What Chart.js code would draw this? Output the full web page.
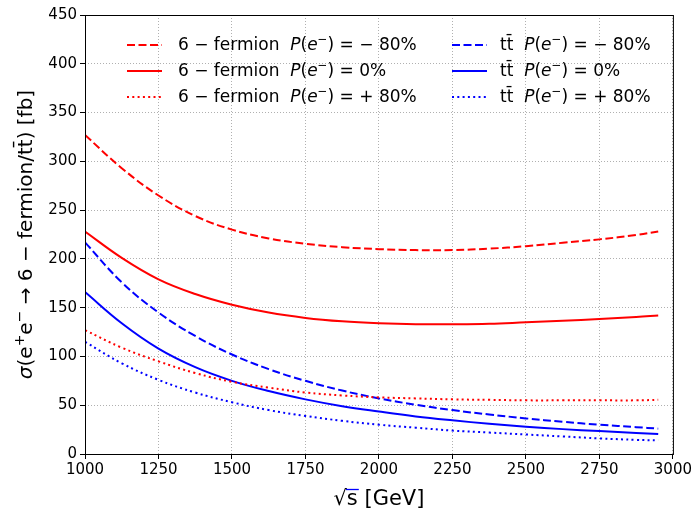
<!DOCTYPE html>
<html>
<head>
<meta charset="utf-8">
<script src="https://cdn.jsdelivr.net/npm/chart.js@4"></script>
<style>
  body { margin: 0; background: #fff; }
  #wrap { width: 694px; height: 508px; }
</style>
</head>
<body>
<div id="wrap"><canvas id="chart"></canvas></div>
<script>
// sqrt(s) in GeV
const energies   = [1000, 1125, 1250, 1375, 1500, 1625, 1750, 1875, 2000, 2125, 2250, 2375, 2500, 2625, 2750, 2875, 2950];
// cross sections in fb
const sixF_m80   = [327, 293, 265, 244, 230, 221, 215.5, 212, 210, 209, 209, 210.5, 213, 216.5, 220, 224.5, 228];
const sixF_0     = [228, 201, 179, 164, 153, 145, 139.5, 136, 134, 133, 133, 133.5, 135, 136.5, 138.5, 140.5, 142];
const sixF_p80   = [127, 109, 95, 83, 74, 68, 63, 60, 58, 57, 56, 55.5, 55, 55, 55, 55, 55.5];
const ttbar_m80  = [217, 176, 145, 121, 102, 87, 75, 65, 57, 50.5, 45, 40.5, 36.5, 33, 30, 27.5, 26];
const ttbar_0    = [166, 134, 108, 89, 75, 64.5, 56, 49, 43.5, 38.5, 34.5, 31, 28, 25.5, 23.5, 21.5, 20.5];
const ttbar_p80  = [115, 93, 76, 63, 53, 45, 39, 34, 30, 27, 24, 22, 20, 18, 16, 14.5, 14];

const procLabels = ["6 − fermion", "tt\u0304"];
const polLabels  = ["− 80%", "0%", "+ 80%"];

const FONT = "'DejaVu Sans', sans-serif";
const dashStyles = [[8, 3.5], [], [2, 3.3]];

function pts(ys) {
    return energies.map((x, i) => ({ x: x, y: ys[i] }));
}

function series(label, ys, color, dash) {
    return {
        label: label,
        data: pts(ys),
        borderColor: color,
        borderWidth: 2,
        borderDash: dash,
        pointRadius: 0,
        tension: 0.4,
        fill: false
    };
}

// text pieces with italic / superscript parts
function segWidth(ctx, segs, size) {
    let w = 0;
    for (const s of segs) {
        const fs = s.sup ? size * 0.7 : size;
        ctx.font = (s.it ? "italic " : "") + fs + "px " + FONT;
        w += ctx.measureText(s.t).width;
    }
    return w;
}
function drawSegs(ctx, segs, x, y, size) {
    for (const s of segs) {
        const fs = s.sup ? size * 0.7 : size;
        ctx.font = (s.it ? "italic " : "") + fs + "px " + FONT;
        ctx.fillText(s.t, x, s.sup ? y - size * 0.38 : y);
        x += ctx.measureText(s.t).width;
    }
    return x;
}

function polSegs(proc, pol) {
    return [
        { t: proc + "  " },
        { t: "P", it: true },
        { t: "(" },
        { t: "e", it: true },
        { t: "−", sup: true },
        { t: ")" },
        { t: " = " + pol }
    ];
}

const decor = {
    id: "decor",
    afterDraw(c) {
        const ctx = c.ctx;
        const a = c.chartArea;
        ctx.save();
        // frame
        ctx.strokeStyle = "#000";
        ctx.lineWidth = 1;
        ctx.setLineDash([]);
        ctx.strokeRect(a.left + 0.5, a.top + 0.5, a.right - a.left, a.bottom - a.top);

        // legend, two columns
        ctx.fillStyle = "#000";
        ctx.textBaseline = "middle";
        const cols = [{ x: 127, tx: 178 }, { x: 452, tx: 500 }];
        const rowY = [45, 71, 97];
        c.data.datasets.forEach((ds, i) => {
            const col = cols[Math.floor(i / 3)];
            const y = rowY[i % 3];
            ctx.strokeStyle = ds.borderColor;
            ctx.lineWidth = 2;
            ctx.setLineDash(ds.borderDash);
            ctx.beginPath();
            ctx.moveTo(col.x, y);
            ctx.lineTo(col.x + 35, y);
            ctx.stroke();
            ctx.setLineDash([]);
            drawSegs(ctx, polSegs(procLabels[Math.floor(i / 3)], polLabels[i % 3]), col.tx, y + 1, 17);
        });

        // x title
        ctx.textBaseline = "alphabetic";
        ctx.font = "21px " + FONT;
        const xt = "√s [GeV]";
        const xw = ctx.measureText(xt).width;
        const x0 = (a.left + a.right) / 2 - xw / 2;
        ctx.fillText(xt, x0, 505);
        const rw = ctx.measureText("√").width;
        const sw = ctx.measureText("s").width;
        ctx.lineWidth = 1.3;
        ctx.beginPath();
        ctx.moveTo(x0 + rw - 1, 489.5);
        ctx.lineTo(x0 + rw + sw + 1, 489.5);
        ctx.stroke();

        // y title
        const ySegs = [
            { t: "σ", it: true },
            { t: "(e" }, { t: "+", sup: true },
            { t: "e" }, { t: "−", sup: true },
            { t: " → 6 − fermion/tt\u0304) [fb]" }
        ];
        ctx.translate(32, (a.top + a.bottom) / 2);
        ctx.rotate(-Math.PI / 2);
        const yw = segWidth(ctx, ySegs, 20);
        drawSegs(ctx, ySegs, -yw / 2, 0, 20);
        ctx.restore();
    }
};

const axisGrid = {
    color: "#b0b0b0",
    lineWidth: 1,
    drawTicks: true,
    tickLength: 5,
    tickColor: "#000",
    tickWidth: 1
};

new Chart(document.getElementById("chart"), {
    type: "line",
    data: {
        datasets: [
            series("6 − fermion P(e⁻) = − 80%", sixF_m80, "#ff0000", dashStyles[0]),
            series("6 − fermion P(e⁻) = 0%", sixF_0, "#ff0000", dashStyles[1]),
            series("6 − fermion P(e⁻) = + 80%", sixF_p80, "#ff0000", dashStyles[2]),
            series("tt̄ P(e⁻) = − 80%", ttbar_m80, "#0000ff", dashStyles[0]),
            series("tt̄ P(e⁻) = 0%", ttbar_0, "#0000ff", dashStyles[1]),
            series("tt̄ P(e⁻) = + 80%", ttbar_p80, "#0000ff", dashStyles[2])
        ]
    },
    options: {
        responsive: true,
        maintainAspectRatio: false,
        animation: false,
        devicePixelRatio: 1,
        layout: { padding: { top: 15, right: 20, left: 0, bottom: 0 } },
        plugins: {
            legend: { display: false },
            tooltip: { enabled: false }
        },
        scales: {
            x: {
                type: "linear",
                min: 1000,
                max: 3000,
                ticks: {
                    stepSize: 250, color: "#000", font: { family: FONT, size: 15 },
                    padding: 2, maxRotation: 0,
                    callback: v => String(v)
                },
                grid: axisGrid,
                border: { dash: [1, 2], display: false },
                afterFit: s => { s.height = 54; }
            },
            y: {
                min: 0,
                max: 450,
                ticks: { stepSize: 50, color: "#000", font: { family: FONT, size: 15 }, padding: 3 },
                grid: axisGrid,
                border: { dash: [1, 2], display: false },
                afterFit: s => { s.width = 85; }
            }
        }
    },
    plugins: [decor]
});
</script>
</body>
</html>
